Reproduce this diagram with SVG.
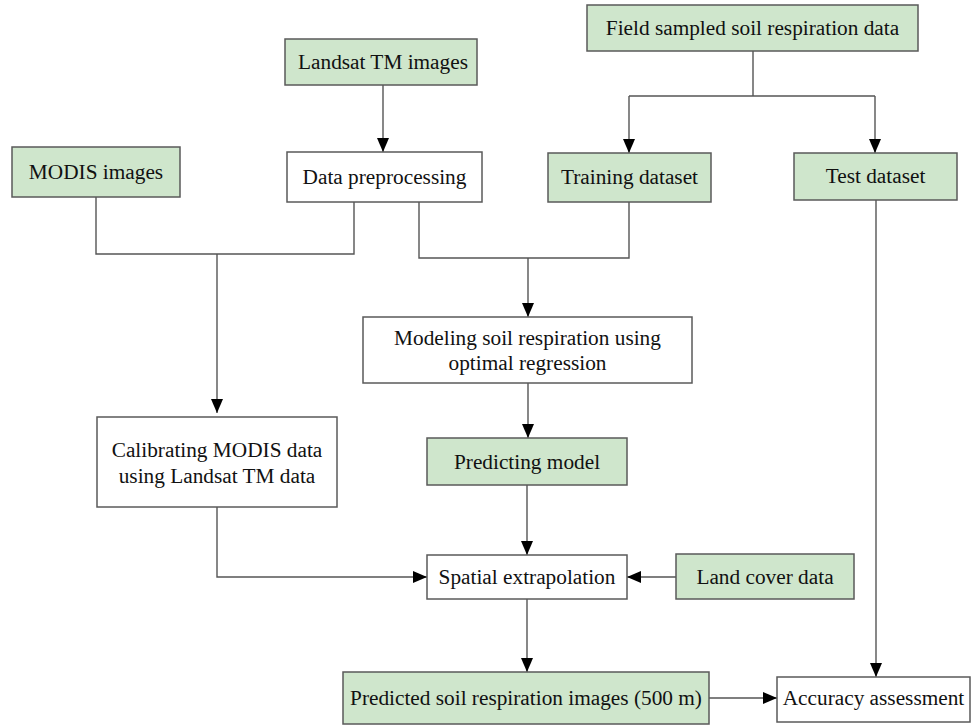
<svg xmlns="http://www.w3.org/2000/svg" width="972" height="726" viewBox="0 0 972 726">
<defs>
<marker id="arr" markerUnits="userSpaceOnUse" markerWidth="14" markerHeight="12" viewBox="0 0 14 12" refX="14" refY="6" orient="auto">
<path d="M0,0 L14,6 L0,12 Z" fill="#000"/>
</marker>
</defs>
<style>
.g{fill:#cfe6cc;stroke:#5a5a5a;stroke-width:1.5}
.w{fill:#fff;stroke:#5a5a5a;stroke-width:1.5}
text{font-family:"Liberation Serif","Times New Roman",serif;font-size:21.3px;fill:#111;text-anchor:middle}
.c path{fill:none;stroke:#555;stroke-width:1.4}
.a{marker-end:url(#arr)}
</style>
<rect width="972" height="726" fill="#fff"/>
<g class="c" id="connectors">
<path d="M753,51 V96 M629,96 H875"/>
<path class="a" d="M629,96 V153"/>
<path class="a" d="M875,96 V153"/>
<path class="a" d="M383,85 V152"/>
<path d="M96,197 V254 H354 V202"/>
<path class="a" d="M217,254 V413"/>
<path d="M419,202 V258 H629 V202"/>
<path class="a" d="M528,258 V317"/>
<path class="a" d="M528,383 V438"/>
<path class="a" d="M527,485 V555"/>
<path class="a" d="M217,507 V577 H427"/>
<path class="a" d="M676,577 H627"/>
<path class="a" d="M527,599 V672"/>
<path class="a" d="M709,698 H777"/>
<path class="a" d="M876,200 V677"/>
</g>
<g id="field"><rect class="g" x="587" y="5" width="331" height="46"/><text x="752.5" y="35">Field sampled soil respiration data</text></g>
<g id="landsat"><rect class="g" x="285" y="39" width="192" height="46"/><text x="383" y="69">Landsat TM images</text></g>
<g id="modis"><rect class="g" x="12" y="147" width="168" height="50"/><text x="96" y="179">MODIS images</text></g>
<g id="preproc"><rect class="w" x="287" y="152" width="195" height="50"/><text x="384.5" y="184">Data preprocessing</text></g>
<g id="training"><rect class="g" x="548" y="153" width="163" height="49"/><text x="629.5" y="184">Training dataset</text></g>
<g id="test"><rect class="g" x="794" y="153" width="163" height="47"/><text x="875.5" y="183">Test dataset</text></g>
<g id="modeling"><rect class="w" x="363" y="317" width="329" height="66"/><text x="527.5" y="345">Modeling soil respiration using</text><text x="527.5" y="370">optimal regression</text></g>
<g id="calibrating"><rect class="w" x="97" y="417" width="240" height="90"/><text x="217" y="457">Calibrating MODIS data</text><text x="217" y="483">using Landsat TM data</text></g>
<g id="predicting"><rect class="g" x="427" y="438" width="200" height="47"/><text x="527" y="469">Predicting model</text></g>
<g id="spatial"><rect class="w" x="427" y="555" width="200" height="44"/><text x="527" y="584">Spatial extrapolation</text></g>
<g id="landcover"><rect class="g" x="676" y="554" width="178" height="45"/><text x="765" y="584">Land cover data</text></g>
<g id="predicted"><rect class="g" x="343" y="672" width="366" height="52"/><text x="526" y="705">Predicted soil respiration images (500 m)</text></g>
<g id="accuracy"><rect class="w" x="777" y="677" width="193" height="45"/><text x="873.5" y="705">Accuracy assessment</text></g>
</svg>
